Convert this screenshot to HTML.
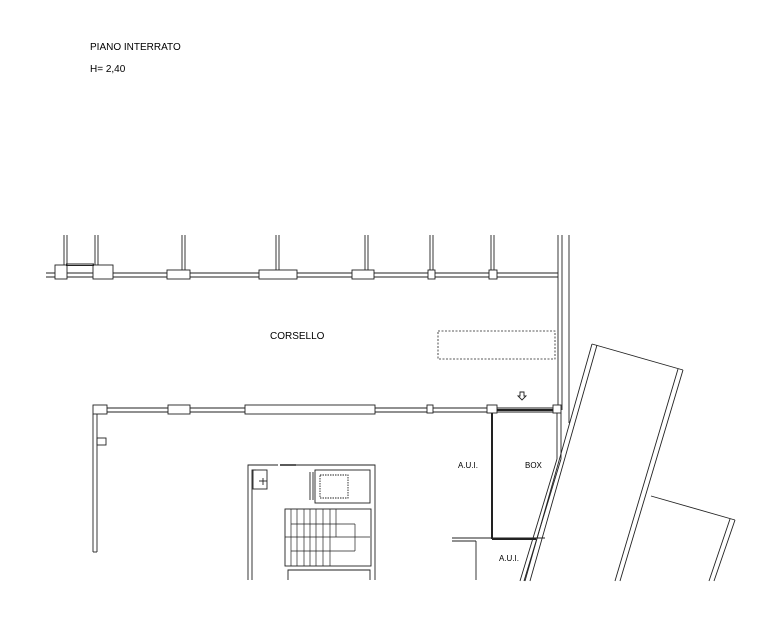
<!DOCTYPE html>
<html><head><meta charset="utf-8"><style>
html,body{margin:0;padding:0;background:#fff;}
svg{display:block}
text{font-family:"Liberation Sans",sans-serif;fill:#000}
</style></head><body>
<svg width="768" height="644" viewBox="0 0 768 644" xmlns="http://www.w3.org/2000/svg">
<rect width="768" height="644" fill="#fff"/>
<text x="90" y="50" font-size="10">PIANO INTERRATO</text>
<text x="90" y="72" font-size="10">H= 2,40</text>
<g stroke="#222" fill="none" stroke-width="0.9">
<!-- top wall -->
<line x1="46" y1="273" x2="558" y2="273"/>
<line x1="46" y1="277" x2="558" y2="277"/>
<rect x="167" y="270" width="23" height="9" fill="#fff"/>
<rect x="259" y="270" width="38" height="9" fill="#fff"/>
<rect x="352" y="270" width="22" height="9" fill="#fff"/>
<rect x="428" y="270" width="7" height="9" fill="#fff"/>
<rect x="489" y="270" width="8" height="9" fill="#fff"/>
<rect x="93" y="265" width="20" height="14" fill="#fff"/>
<rect x="55" y="265" width="12" height="14" fill="#fff"/>
<line x1="66" y1="264" x2="94" y2="264"/><line x1="66" y1="265.5" x2="94" y2="265.5"/>
<!-- stubs -->
<g>
<line x1="64" y1="235" x2="64" y2="265"/><line x1="67" y1="235" x2="67" y2="265"/>
<line x1="95" y1="235" x2="95" y2="265"/><line x1="98" y1="235" x2="98" y2="265"/>
<line x1="182" y1="235" x2="182" y2="270"/><line x1="185" y1="235" x2="185" y2="270"/>
<line x1="276" y1="235" x2="276" y2="270"/><line x1="279" y1="235" x2="279" y2="270"/>
<line x1="365" y1="235" x2="365" y2="270"/><line x1="368" y1="235" x2="368" y2="270"/>
<line x1="430" y1="235" x2="430" y2="270"/><line x1="433" y1="235" x2="433" y2="270"/>
<line x1="491" y1="235" x2="491" y2="270"/><line x1="494" y1="235" x2="494" y2="270"/>
</g>
<!-- right wall -->
<line x1="558" y1="235" x2="558" y2="410"/>
<line x1="562" y1="235" x2="562" y2="410"/>
<line x1="569" y1="235" x2="569" y2="423"/>
<!-- bottom corridor wall -->
<line x1="93" y1="408" x2="558" y2="408"/>
<line x1="93" y1="412" x2="558" y2="412"/>
<rect x="93" y="405" width="14" height="9" fill="#fff"/>
<rect x="168" y="405" width="22" height="9" fill="#fff"/>
<rect x="245" y="405" width="130" height="9" fill="#fff"/>
<rect x="427" y="405" width="6" height="8" fill="#fff"/>
<rect x="487" y="405" width="10" height="8" fill="#fff"/>
<rect x="553" y="405" width="8" height="8" fill="#fff"/>
<line x1="93" y1="414" x2="93" y2="552"/><line x1="97" y1="414" x2="97" y2="552"/>
<rect x="97" y="438" width="9" height="7"/>
<line x1="93" y1="552" x2="97" y2="552"/>
<!-- dashed -->
<rect x="438" y="331" width="117" height="28" stroke-dasharray="2,1.5" stroke-width="0.8"/>
<!-- arrow -->
<path d="M520 392 h4 v4 h2 l-4 4 l-4 -4 h2 z"/>
<!-- box -->
<line x1="492" y1="413" x2="492" y2="539" stroke-width="2"/>
<line x1="497" y1="410" x2="553" y2="410" stroke-width="2"/>
<line x1="561" y1="413" x2="561" y2="459"/>
<line x1="557" y1="413" x2="557" y2="459"/>
<line x1="561" y1="459" x2="524" y2="581"/>
<line x1="557" y1="459" x2="520" y2="581"/>
<line x1="452" y1="538" x2="545" y2="538"/>
<line x1="452" y1="541" x2="476" y2="541"/>
<line x1="492" y1="539" x2="536" y2="539" stroke-width="2"/>
<line x1="476" y1="541" x2="476" y2="580"/>
<!-- parallelograms -->
<line x1="592" y1="344" x2="683" y2="370"/>
<line x1="592" y1="344" x2="525" y2="581"/>
<line x1="597" y1="345" x2="530" y2="581"/>
<line x1="683" y1="370" x2="620" y2="581"/>
<line x1="678" y1="369" x2="615" y2="581"/>
<line x1="651" y1="496" x2="735" y2="520"/>
<line x1="735" y1="520" x2="714" y2="581"/>
<line x1="730" y1="519" x2="709" y2="581"/>
<!-- stair block -->
<path d="M248 580 V465 H278 M296 465 H375 V580"/>
<line x1="280" y1="465" x2="296" y2="465" stroke-width="1.5"/>
<path d="M252 580 V470 H256"/>
<rect x="253" y="470" width="14" height="19"/>
<line x1="263" y1="478" x2="263" y2="485"/><line x1="259" y1="481" x2="267" y2="481"/>
<rect x="315" y="470" width="55" height="33"/>
<rect x="320" y="475" width="28" height="23" stroke-dasharray="1.5,1"/>
<line x1="313" y1="472" x2="313" y2="500"/><line x1="310" y1="472" x2="310" y2="500"/>
<rect x="285" y="509" width="86" height="57"/>
<g stroke-width="0.7">
<line x1="285" y1="537" x2="370" y2="537"/>
<line x1="291" y1="524" x2="355" y2="524"/>
<line x1="291" y1="551" x2="355" y2="551"/>
<line x1="355" y1="524" x2="355" y2="551"/>
<line x1="330" y1="509" x2="330" y2="566"/>
<line x1="291" y1="509" x2="291" y2="566"/><line x1="297" y1="509" x2="297" y2="566"/>
<line x1="304" y1="509" x2="304" y2="566"/><line x1="310" y1="509" x2="310" y2="566"/>
<line x1="316" y1="509" x2="316" y2="566"/><line x1="323" y1="509" x2="323" y2="566"/>
<line x1="336" y1="509" x2="336" y2="537"/>
</g>
<path d="M288 580 V570 H370 V580"/>
</g>
<text x="270" y="339" font-size="10">CORSELLO</text>
<text x="458" y="468" font-size="8">A.U.I.</text>
<text x="525" y="468" font-size="8">BOX</text>
<text x="499" y="561" font-size="8">A.U.I.</text>
</svg>
</body></html>
